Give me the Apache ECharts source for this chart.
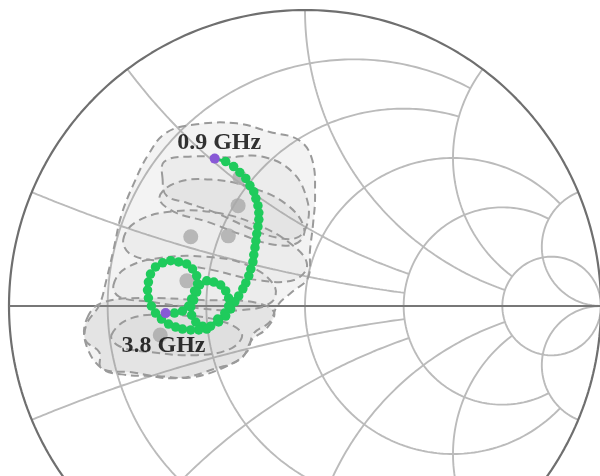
<!DOCTYPE html>
<html>
<head>
<meta charset="utf-8">
<script src="https://cdn.jsdelivr.net/npm/echarts@6/dist/echarts.min.js"></script>
<style>
html, body { margin: 0; padding: 0; background: #fff; }
#chart { width: 600px; height: 476px; }
</style>
</head>
<body>
<div id="chart"></div>
<script>
// smith grid: constant r circles / constant x arcs, and where each one stops
var rValues = [0.2, 0.5, 1, 2, 5];
var rLimits = [2, 2, 5, 5, Infinity];
var xValues = [0.2, 0.5, 1, 2, 5];
var xLimits = [2, 2, 5, 5, Infinity];

// measured reflection coefficient, 0.9 GHz -> 3.8 GHz
var trajRe = [-0.305, -0.268, -0.241, -0.220, -0.200, -0.186, -0.173, -0.166, -0.159, -0.156,
  -0.156, -0.159, -0.163, -0.166, -0.169, -0.173, -0.176, -0.183, -0.190, -0.200,
  -0.210, -0.224, -0.237,
  -0.251, -0.268, -0.292, -0.319, -0.346, -0.369, -0.383, -0.386, -0.383, -0.373,
  -0.356, -0.332, -0.308, -0.285, -0.268, -0.258, -0.258, -0.271, -0.295,
  -0.332, -0.359, -0.386, -0.414, -0.437, -0.461, -0.485,
  -0.505, -0.519, -0.529, -0.532, -0.529, -0.522, -0.505, -0.481, -0.454, -0.427,
  -0.400, -0.380, -0.366, -0.363, -0.366, -0.376, -0.393, -0.414, -0.441, -0.471];
var trajIm = [0.498, 0.488, 0.471, 0.451, 0.431, 0.407, 0.386, 0.363, 0.339, 0.315,
  0.292, 0.268, 0.244, 0.220, 0.197, 0.173, 0.149, 0.125, 0.102, 0.078,
  0.058, 0.034, 0.014,
  -0.010, -0.034, -0.054, -0.068, -0.068, -0.054, -0.031, -0.003, 0.024, 0.051,
  0.071, 0.085, 0.081, 0.071, 0.051, 0.027, 0.000, -0.024, -0.044,
  -0.078, -0.081, -0.081, -0.078, -0.071, -0.061, -0.044,
  -0.024, 0.000, 0.027, 0.054, 0.081, 0.108, 0.132, 0.146, 0.153, 0.149,
  0.142, 0.125, 0.102, 0.075, 0.047, 0.020, 0.000, -0.017, -0.024, -0.024];

// optimum points (grey)
var optRe = [-0.220, -0.226, -0.386, -0.259, -0.399, -0.489];
var optIm = [0.434, 0.339, 0.234, 0.237, 0.085, -0.098];

// dashed regions
var outerRe = [-0.468, -0.366, -0.231, -0.119, -0.020, 0.024, 0.034, 0.027, 0.017, 0.010,
  -0.044, -0.092, -0.119, -0.173, -0.197, -0.264, -0.383, -0.495, -0.620, -0.688,
  -0.739, -0.739, -0.695, -0.671, -0.647, -0.620, -0.580, -0.529];
var outerIm = [0.586, 0.614, 0.617, 0.588, 0.560, 0.495, 0.376, 0.275, 0.190, 0.095,
  0.047, 0.003, -0.054, -0.092, -0.156, -0.203, -0.241, -0.237, -0.231, -0.210,
  -0.132, -0.064, 0.003, 0.088, 0.190, 0.308, 0.410, 0.512];
var topRe = [-0.481, -0.475, -0.383, -0.264, -0.146, -0.044, 0.007, 0.007, -0.027, -0.095, -0.183, -0.302, -0.400, -0.468];
var topIm = [0.427, 0.488, 0.505, 0.502, 0.505, 0.454, 0.359, 0.275, 0.231, 0.231, 0.261, 0.315, 0.349, 0.373];
var mid1Re = [-0.492, -0.434, -0.315, -0.180, -0.061, -0.003, -0.024, -0.105, -0.214, -0.332, -0.444];
var mid1Im = [0.366, 0.417, 0.427, 0.400, 0.342, 0.264, 0.214, 0.207, 0.241, 0.285, 0.319];
var mid2Re = [-0.614, -0.569, -0.451, -0.298, -0.163, -0.044, 0.007, -0.037, -0.163, -0.315, -0.468, -0.586];
var mid2Im = [0.224, 0.285, 0.319, 0.315, 0.275, 0.207, 0.139, 0.088, 0.088, 0.122, 0.149, 0.173];
var mid3Re = [-0.647, -0.603, -0.485, -0.332, -0.197, -0.105, -0.112, -0.214, -0.366, -0.519, -0.627];
var mid3Im = [0.071, 0.129, 0.163, 0.166, 0.139, 0.071, 0.014, -0.014, -0.007, 0.014, 0.031];
var lowRe = [-0.736, -0.688, -0.553, -0.349, -0.180, -0.105, -0.129, -0.180, -0.214, -0.298, -0.434, -0.586, -0.688, -0.695, -0.742];
var lowIm = [-0.041, 0.010, 0.027, 0.020, 0.014, -0.020, -0.075, -0.115, -0.176, -0.210, -0.244, -0.224, -0.210, -0.156, -0.115];
var low2Re = [-0.654, -0.586, -0.451, -0.298, -0.214, -0.247, -0.366, -0.519, -0.627];
var low2Im = [-0.098, -0.041, -0.031, -0.047, -0.092, -0.142, -0.166, -0.156, -0.136];

var labelText = ['0.9 GHz', '3.8 GHz'];
var labelRe = [-0.290, -0.478];
var labelIm = [0.553, -0.134];

function gam(r, x) {
    var d = (r + 1) * (r + 1) + x * x;
    return [(r * r + x * x - 1) / d, 2 * x / d];
}
function rCircle(r, lim) {
    var pts = [], a = Math.atan(lim);
    for (var i = 0; i <= 300; i++) {
        pts.push(gam(r, Math.tan(-a + 2 * a * i / 300)));
    }
    return pts;
}
function xArc(x, lim) {
    var pts = [], a = Math.atan(lim);
    for (var i = 0; i <= 200; i++) {
        pts.push(gam(Math.tan(a * i / 200), x));
    }
    return pts;
}
function zip(re, im) {
    return re.map(function (v, i) { return [v, im[i]]; });
}

var series = [];
function gridLine(pts, color, width) {
    series.push({
        type: 'line', data: pts, showSymbol: false, silent: true, z: 1,
        lineStyle: { color: color, width: width }
    });
}
rValues.forEach(function (r, i) { gridLine(rCircle(r, rLimits[i]), '#bbbbbb', 1.9); });
xValues.forEach(function (x, i) {
    gridLine(xArc(x, xLimits[i]), '#bbbbbb', 1.9);
    gridLine(xArc(-x, xLimits[i]), '#bbbbbb', 1.9);
});
gridLine(rCircle(0, Infinity), '#6f6f6f', 2.2);
gridLine([[-1, 0], [1, 0]], '#777', 2);

var blobs = [
    { re: outerRe, im: outerIm, fill: 'rgba(150,150,150,0.11)' },
    { re: lowRe, im: lowIm, fill: 'rgba(150,150,150,0.16)' },
    { re: topRe, im: topIm, fill: 'rgba(150,150,150,0.07)' },
    { re: mid1Re, im: mid1Im, fill: 'rgba(150,150,150,0.09)' },
    { re: mid2Re, im: mid2Im, fill: 'rgba(150,150,150,0.07)' },
    { re: mid3Re, im: mid3Im, fill: 'rgba(150,150,150,0.07)' },
    { re: low2Re, im: low2Im, fill: 'rgba(150,150,150,0.06)' }
];
series.push({
    type: 'custom', z: 2, silent: true,
    data: blobs.map(function (b) { return [b.re[0], b.im[0]]; }),
    renderItem: function (params, api) {
        var b = blobs[params.dataIndex];
        var pts = b.re.map(function (v, k) { return api.coord([v, b.im[k]]); });
        return {
            type: 'polygon',
            shape: { points: pts, smooth: 0.4 },
            style: { fill: b.fill, stroke: '#9a9a9a', lineWidth: 2, lineDash: [8, 5] }
        };
    }
});
series.push({
    type: 'scatter', z: 3, silent: true, data: zip(optRe, optIm),
    symbolSize: 15, itemStyle: { color: '#a9a9a9' }
});
var traj = zip(trajRe, trajIm);
series.push({
    type: 'line', z: 4, silent: true, data: traj,
    symbol: 'circle', symbolSize: 9.5, showSymbol: true,
    lineStyle: { color: '#1fcb5c', width: 3 },
    itemStyle: { color: '#1fcb5c', borderWidth: 0 }
});
series.push({
    type: 'scatter', z: 5, silent: true,
    data: [traj[0], traj[traj.length - 1]],
    symbolSize: 10, itemStyle: { color: '#a23cf5' }
});
series.push({
    type: 'scatter', z: 6, silent: true, symbolSize: 0,
    data: labelText.map(function (t, i) { return { name: t, value: [labelRe[i], labelIm[i]] }; }),
    label: {
        show: true, position: 'inside', formatter: '{b}',
        fontFamily: 'Liberation Serif', fontWeight: 'bold', fontSize: 24, color: '#000'
    }
});

var chart = echarts.init(document.getElementById('chart'));
chart.setOption({
    animation: false,
    grid: { left: 0, right: 0, top: 0, bottom: 0 },
    xAxis: { type: 'value', min: -1.03041, max: 0.99662, show: false },
    yAxis: { type: 'value', min: -0.57432, max: 1.03378, show: false },
    series: series
});
</script>
</body>
</html>
